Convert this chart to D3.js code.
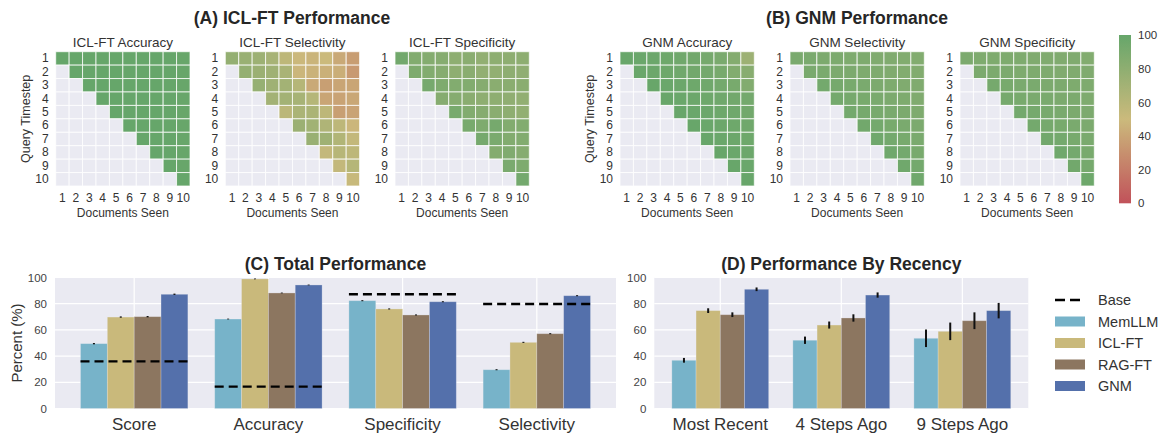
<!DOCTYPE html>
<html>
<head>
<meta charset="utf-8">
<script src="https://cdn.jsdelivr.net/npm/d3@7"></script>
<style>
  html, body { margin: 0; padding: 0; background: #ffffff; }
  svg { display: block; font-family: "Liberation Sans", Arial, sans-serif; }
</style>
</head>
<body>
<svg id="chart" width="1164" height="433"></svg>
<script>
// ---------- data ----------
const steps = [1, 2, 3, 4, 5, 6, 7, 8, 9, 10];
const colorbarTicks = [0, 20, 40, 60, 80, 100];

// heatmaps: rows = query timestep, columns = documents seen (null = not yet seen)
const iclAccuracy = [
  [100, 100, 100, 100, 100, 100, 100, 100, 100, 99],
  [null, 100, 100, 100, 100, 100, 100, 100, 100, 99],
  [null, null, 100, 100, 100, 100, 100, 100, 100, 99],
  [null, null, null, 100, 100, 100, 100, 100, 100, 99],
  [null, null, null, null, 100, 100, 100, 100, 100, 99],
  [null, null, null, null, null, 100, 100, 100, 100, 99],
  [null, null, null, null, null, null, 100, 100, 100, 99],
  [null, null, null, null, null, null, null, 100, 100, 99],
  [null, null, null, null, null, null, null, null, 100, 99],
  [null, null, null, null, null, null, null, null, null, 100]
];
const iclSelectivity = [
  [77, 75, 73, 68, 57, 49, 47, 50, 42, 36],
  [null, 77, 74, 72, 67, 48, 46, 45, 44, 34],
  [null, null, 76, 72, 70, 61, 42, 37, 40, 40],
  [null, null, null, 70, 70, 68, 61, 40, 39, 41],
  [null, null, null, null, 58, 66, 66, 57, 37, 39],
  [null, null, null, null, null, 74, 71, 64, 57, 48],
  [null, null, null, null, null, null, 75, 72, 63, 54],
  [null, null, null, null, null, null, null, 54, 60, 57],
  [null, null, null, null, null, null, null, null, 54, 61],
  [null, null, null, null, null, null, null, null, null, 52]
];
const iclSpecificity = [
  [94, 86, 85, 84, 80, 82, 78, 80, 80, 80],
  [null, 88, 86, 84, 80, 82, 78, 78, 80, 79],
  [null, null, 92, 88, 86, 86, 84, 82, 82, 82],
  [null, null, null, 84, 84, 82, 80, 80, 79, 78],
  [null, null, null, null, 91, 86, 84, 82, 80, 78],
  [null, null, null, null, null, 91, 88, 92, 86, 86],
  [null, null, null, null, null, null, 92, 90, 86, 86],
  [null, null, null, null, null, null, null, 85, 87, 84],
  [null, null, null, null, null, null, null, null, 90, 88],
  [null, null, null, null, null, null, null, null, null, 93]
];
const gnmAccuracy = [
  [99, 98, 97, 96, 95, 94, 92, 90, 85, 73],
  [null, 98, 97, 96, 95, 94, 93, 91, 86, 83],
  [null, null, 99, 98, 97, 96, 95, 93, 91, 86],
  [null, null, null, 99, 98, 97, 96, 95, 94, 93],
  [null, null, null, null, 99, 98, 97, 96, 95, 94],
  [null, null, null, null, null, 99, 98, 97, 96, 95],
  [null, null, null, null, null, null, 99, 98, 97, 96],
  [null, null, null, null, null, null, null, 99, 98, 97],
  [null, null, null, null, null, null, null, null, 99, 98],
  [null, null, null, null, null, null, null, null, null, 99]
];
const gnmSelectivity = [
  [90, 90, 89, 89, 88, 88, 87, 87, 86, 86],
  [null, 90, 90, 89, 89, 88, 88, 87, 86, 86],
  [null, null, 93, 92, 91, 90, 89, 88, 87, 87],
  [null, null, null, 93, 92, 91, 90, 89, 88, 87],
  [null, null, null, null, 93, 92, 91, 90, 89, 88],
  [null, null, null, null, null, 94, 93, 91, 90, 89],
  [null, null, null, null, null, null, 95, 93, 91, 90],
  [null, null, null, null, null, null, null, 95, 93, 91],
  [null, null, null, null, null, null, null, null, 95, 93],
  [null, null, null, null, null, null, null, null, null, 95]
];
const gnmSpecificity = [
  [89, 88, 88, 88, 88, 87, 87, 87, 87, 86],
  [null, 89, 89, 89, 88, 88, 88, 87, 87, 87],
  [null, null, 92, 91, 90, 90, 89, 89, 88, 88],
  [null, null, null, 92, 91, 90, 90, 89, 89, 88],
  [null, null, null, null, 93, 92, 91, 90, 89, 89],
  [null, null, null, null, null, 93, 92, 91, 90, 89],
  [null, null, null, null, null, null, 94, 93, 91, 90],
  [null, null, null, null, null, null, null, 95, 93, 91],
  [null, null, null, null, null, null, null, null, 94, 92],
  [null, null, null, null, null, null, null, null, null, 96]
];

// bar charts
const models = ["MemLLM", "ICL-FT", "RAG-FT", "GNM"];
const modelColors = ["#77b3c9", "#c9b97b", "#8c7660", "#5470ab"];

const totalMetrics = ["Score", "Accuracy", "Specificity", "Selectivity"];
const totalMemLLM = [49.5, 68.3, 82.3, 29.6];
const totalICL = [69.8, 98.9, 76.0, 50.5];
const totalRAG = [70.1, 88.2, 71.4, 57.1];
const totalGNM = [87.2, 94.3, 81.5, 86.1];
const totalErr = [0.5, 0.3, 0.4, 0.4];
const totalBase = [36.0, 16.7, 87.2, 79.8];

const recency = ["Most Recent", "4 Steps Ago", "9 Steps Ago"];
const recMemLLM = [36.8, 52.1, 53.6];
const recICL = [74.7, 63.7, 58.9];
const recRAG = [71.6, 69.1, 67.0];
const recGNM = [91.0, 86.6, 74.7];
const recErrMemLLM = [1.8, 2.8, 6.7];
const recErrICL = [1.8, 2.7, 6.7];
const recErrRAG = [1.8, 2.8, 6.4];
const recErrGNM = [1.4, 2.0, 5.9];

const yTicks = [0, 20, 40, 60, 80, 100];

// ---------- setup ----------
const svg = d3.select("#chart");
const textColor = "#333333";
const panelBg = "#eaeaf2";

const heatColor = d3.scaleLinear()
  .domain([0, 50, 100])
  .range(["#c1525a", "#cbba7c", "#66a66a"])
  .interpolate(d3.interpolateRgb)
  .clamp(true);

// ---------- heatmaps ----------
const cellSpan = 134.3;
const heatTop = 51.7;
const xCell = d3.scaleBand().domain(steps).range([0, cellSpan]);
const yCell = d3.scaleBand().domain(steps).range([0, cellSpan]);

function heatmap(x0, title, data, showYLabel) {
  const g = svg.append("g").attr("transform", `translate(${x0},${heatTop})`);
  const cells = [];
  data.forEach((row, i) => row.forEach((v, j) => cells.push({ r: steps[i], c: steps[j], v })));
  g.selectAll("rect.cell").data(cells).join("rect")
    .attr("class", "cell")
    .attr("x", d => xCell(d.c))
    .attr("y", d => yCell(d.r))
    .attr("width", xCell.bandwidth())
    .attr("height", yCell.bandwidth())
    .attr("fill", d => d.v == null ? panelBg : heatColor(d.v))
    .attr("stroke", "#ffffff")
    .attr("stroke-opacity", 0.75)
    .attr("stroke-width", 1);

  const yAx = g.append("g").call(d3.axisLeft(yCell).tickSize(0).tickPadding(7));
  yAx.select(".domain").remove();
  yAx.selectAll("text").attr("font-size", 12).attr("fill", textColor)
    .attr("font-family", "Liberation Sans, Arial, sans-serif");

  const xAx = g.append("g").attr("transform", `translate(0,${cellSpan})`)
    .call(d3.axisBottom(xCell).tickSize(0).tickPadding(7));
  xAx.select(".domain").remove();
  xAx.selectAll("text").attr("font-size", 12).attr("fill", textColor)
    .attr("font-family", "Liberation Sans, Arial, sans-serif");

  g.append("text").attr("x", cellSpan / 2).attr("y", -5)
    .attr("text-anchor", "middle").attr("font-size", 13.5).attr("fill", textColor)
    .text(title);
  g.append("text").attr("x", cellSpan / 2).attr("y", cellSpan + 31)
    .attr("text-anchor", "middle").attr("font-size", 12).attr("fill", textColor)
    .text("Documents Seen");
  if (showYLabel) {
    g.append("text")
      .attr("transform", `translate(-26,${cellSpan / 2}) rotate(-90)`)
      .attr("text-anchor", "middle").attr("font-size", 12.5).attr("fill", textColor)
      .text("Query Timestep");
  }
}

heatmap(55.7, "ICL-FT Accuracy", iclAccuracy, true);
heatmap(225.3, "ICL-FT Selectivity", iclSelectivity, false);
heatmap(395.0, "ICL-FT Specificity", iclSpecificity, false);
heatmap(620.0, "GNM Accuracy", gnmAccuracy, true);
heatmap(790.0, "GNM Selectivity", gnmSelectivity, false);
heatmap(960.0, "GNM Specificity", gnmSpecificity, false);

svg.append("text").attr("x", 292).attr("y", 24).attr("text-anchor", "middle")
  .attr("font-size", 17.5).attr("font-weight", "bold").attr("fill", "#262626")
  .text("(A) ICL-FT Performance");
svg.append("text").attr("x", 857).attr("y", 24).attr("text-anchor", "middle")
  .attr("font-size", 17.5).attr("font-weight", "bold").attr("fill", "#262626")
  .text("(B) GNM Performance");

// colorbar
const cbX = 1119, cbW = 12;
const cbY = d3.scaleLinear().domain([0, 100]).range([203.3, 35]);
const defs = svg.append("defs");
const grad = defs.append("linearGradient").attr("id", "cbGrad")
  .attr("x1", 0).attr("y1", 1).attr("x2", 0).attr("y2", 0);
d3.range(0, 101, 5).forEach(v => {
  grad.append("stop").attr("offset", v / 100).attr("stop-color", heatColor(v));
});
svg.append("rect").attr("x", cbX).attr("y", cbY(100)).attr("width", cbW)
  .attr("height", cbY(0) - cbY(100)).attr("fill", "url(#cbGrad)");
const cbAx = svg.append("g").attr("transform", `translate(${cbX + cbW},0)`)
  .call(d3.axisRight(cbY).tickValues(colorbarTicks).tickSize(0).tickPadding(7));
cbAx.select(".domain").remove();
cbAx.selectAll("text").attr("font-size", 11.5).attr("fill", textColor)
  .attr("font-family", "Liberation Sans, Arial, sans-serif");

// ---------- bar charts ----------
const yBar = d3.scaleLinear().domain([0, 100]).range([408.5, 277.5]);

function barPanel(opts) {
  const { x, cats, series, errs, base, title, titleX, left, right } = opts;
  const g = svg.append("g");
  g.append("rect").attr("x", left).attr("y", yBar(100)).attr("width", right - left)
    .attr("height", yBar(0) - yBar(100)).attr("fill", panelBg);
  // horizontal grid
  g.selectAll("line.hg").data(yTicks).join("line")
    .attr("x1", left).attr("x2", right)
    .attr("y1", d => yBar(d)).attr("y2", d => yBar(d))
    .attr("stroke", "#ffffff").attr("stroke-width", 1.2);
  // vertical grid at categories
  g.selectAll("line.vg").data(cats).join("line")
    .attr("x1", (d, i) => x(i)).attr("x2", (d, i) => x(i))
    .attr("y1", yBar(100)).attr("y2", yBar(0))
    .attr("stroke", "#ffffff").attr("stroke-width", 1.2);

  const w = 0.2;
  series.forEach((vals, k) => {
    const bars = vals.map((v, i) => ({ i, v, e: errs[k][i] }));
    g.selectAll(`rect.b${k}`).data(bars).join("rect")
      .attr("x", d => x(d.i - 0.4 + k * w))
      .attr("y", d => yBar(d.v))
      .attr("width", d => x(d.i - 0.4 + (k + 1) * w) - x(d.i - 0.4 + k * w))
      .attr("height", d => yBar(0) - yBar(d.v))
      .attr("fill", modelColors[k])
      .attr("stroke", "#eaeaf2").attr("stroke-opacity", 0.35).attr("stroke-width", 0.8);
    g.selectAll(`line.e${k}`).data(bars).join("line")
      .attr("x1", d => x(d.i - 0.4 + (k + 0.5) * w))
      .attr("x2", d => x(d.i - 0.4 + (k + 0.5) * w))
      .attr("y1", d => yBar(d.v - d.e)).attr("y2", d => yBar(d.v + d.e))
      .attr("stroke", "#111111").attr("stroke-width", 2);
  });

  if (base) {
    g.selectAll("line.base").data(base).join("line")
      .attr("x1", (d, i) => x(i - 0.4)).attr("x2", (d, i) => x(i + 0.4))
      .attr("y1", d => yBar(d)).attr("y2", d => yBar(d))
      .attr("stroke", "#000000").attr("stroke-width", 2.4)
      .attr("stroke-dasharray", "9,5");
  }

  const yAx = g.append("g").attr("transform", `translate(${left},0)`)
    .call(d3.axisLeft(yBar).tickValues(yTicks).tickSize(0).tickPadding(8));
  yAx.select(".domain").remove();
  yAx.selectAll("text").attr("font-size", 11.5).attr("fill", "#444444")
    .attr("font-family", "Liberation Sans, Arial, sans-serif");

  g.selectAll("text.cat").data(cats).join("text")
    .attr("class", "cat")
    .attr("x", (d, i) => x(i)).attr("y", 430)
    .attr("text-anchor", "middle").attr("font-size", 17).attr("fill", textColor)
    .text(d => d);

  g.append("text").attr("x", titleX).attr("y", 270).attr("text-anchor", "middle")
    .attr("font-size", 17.5).attr("font-weight", "bold").attr("fill", "#262626")
    .text(title);
}

const xTotal = d3.scaleLinear().domain([-0.59, 3.59]).range([55, 616]);
barPanel({
  x: xTotal, cats: totalMetrics,
  series: [totalMemLLM, totalICL, totalRAG, totalGNM],
  errs: [totalErr, totalErr, totalErr, totalErr],
  base: totalBase, title: "(C) Total Performance", titleX: 335.5,
  left: 55, right: 616
});

const xRec = d3.scaleLinear().domain([-0.545, 2.545]).range([654.3, 1028.3]);
barPanel({
  x: xRec, cats: recency,
  series: [recMemLLM, recICL, recRAG, recGNM],
  errs: [recErrMemLLM, recErrICL, recErrRAG, recErrGNM],
  base: null, title: "(D) Performance By Recency", titleX: 841.3,
  left: 654.3, right: 1028.3
});

svg.append("text")
  .attr("transform", `translate(22,${(yBar(0) + yBar(100)) / 2}) rotate(-90)`)
  .attr("text-anchor", "middle").attr("font-size", 15).attr("fill", textColor)
  .text("Percent (%)");

// legend
const lg = svg.append("g").attr("transform", "translate(1055,300)");
lg.append("line").attr("x1", 0).attr("x2", 27).attr("y1", 0).attr("y2", 0)
  .attr("stroke", "#000").attr("stroke-width", 2.4).attr("stroke-dasharray", "10,5");
lg.append("text").attr("x", 43).attr("y", 5).attr("font-size", 14.5).attr("fill", textColor)
  .text("Base");
models.forEach((m, k) => {
  const yy = 21.5 * (k + 1);
  lg.append("rect").attr("x", 0).attr("y", yy - 5).attr("width", 30).attr("height", 10)
    .attr("fill", modelColors[k]);
  lg.append("text").attr("x", 43).attr("y", yy + 5).attr("font-size", 14.5).attr("fill", textColor)
    .text(m);
});
</script>
</body>
</html>
